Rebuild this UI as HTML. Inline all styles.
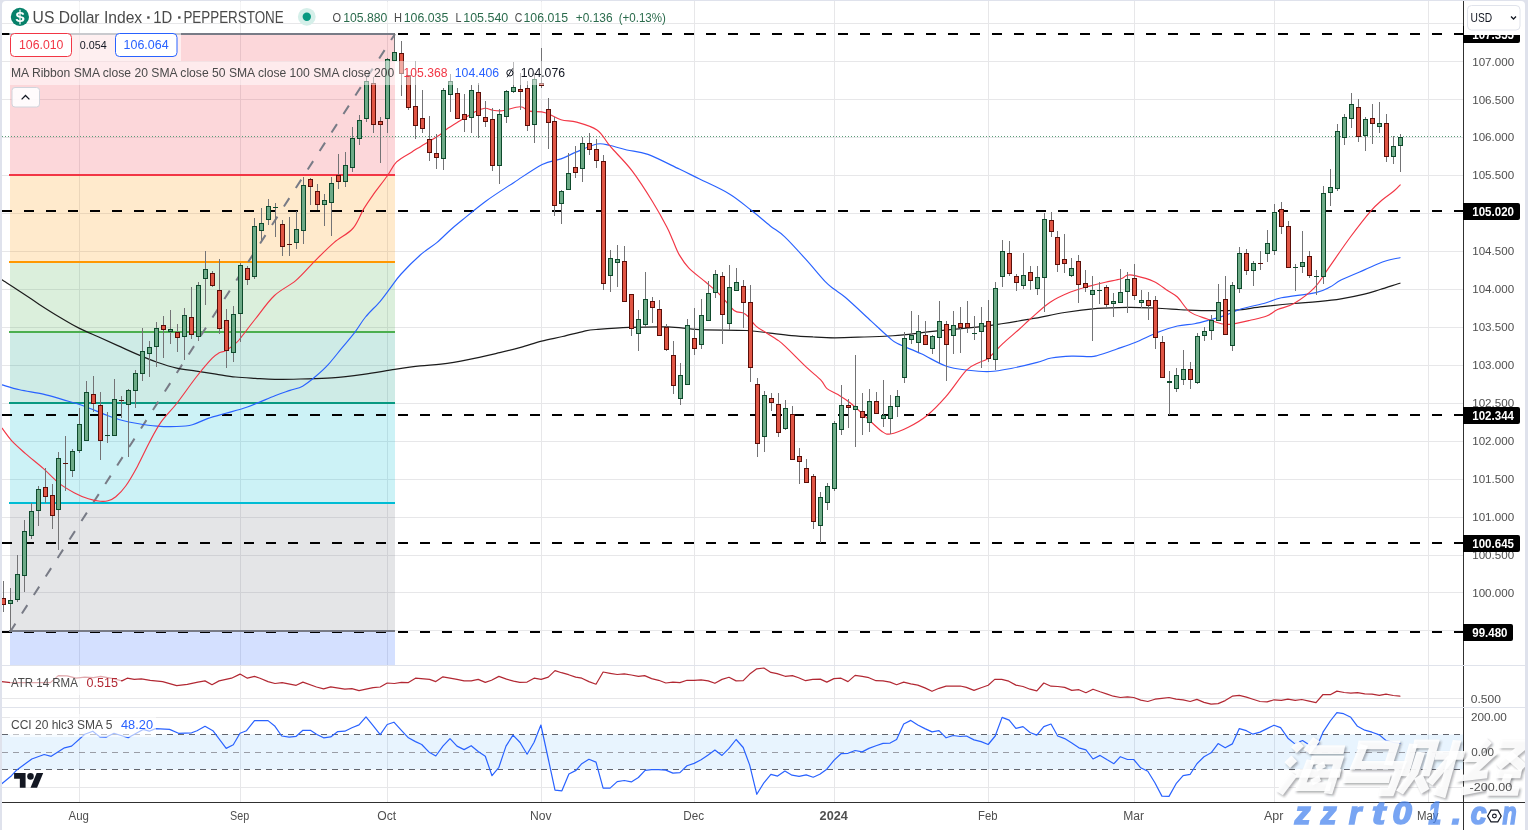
<!DOCTYPE html><html><head><meta charset="utf-8"><title>US Dollar Index</title>
<style>
html,body{margin:0;padding:0;background:#fff;}
body{width:1528px;height:830px;overflow:hidden;position:relative;font-family:"Liberation Sans",sans-serif;}
#c{position:absolute;left:0;top:0;width:1528px;height:830px;will-change:transform;}
svg text{font-family:"Liberation Sans",sans-serif;}
</style></head><body>
<svg id="c" width="1528" height="830" viewBox="0 0 1528 830">
<rect x="0" y="0" width="1528" height="830" fill="#ffffff"/>
<g id="grid" shape-rendering="crispEdges"><rect x="79" y="1" width="1" height="801" fill="#e7e7e9"/><rect x="240" y="1" width="1" height="801" fill="#e7e7e9"/><rect x="387" y="1" width="1" height="801" fill="#e7e7e9"/><rect x="541" y="1" width="1" height="801" fill="#e7e7e9"/><rect x="694" y="1" width="1" height="801" fill="#e7e7e9"/><rect x="834" y="1" width="1" height="801" fill="#e7e7e9"/><rect x="988" y="1" width="1" height="801" fill="#e7e7e9"/><rect x="1134" y="1" width="1" height="801" fill="#e7e7e9"/><rect x="1274" y="1" width="1" height="801" fill="#e7e7e9"/><rect x="1428" y="1" width="1" height="801" fill="#e7e7e9"/><rect x="2" y="23" width="1461" height="1" fill="#e7e7e9"/><rect x="2" y="61" width="1461" height="1" fill="#e7e7e9"/><rect x="2" y="99" width="1461" height="1" fill="#e7e7e9"/><rect x="2" y="137" width="1461" height="1" fill="#e7e7e9"/><rect x="2" y="175" width="1461" height="1" fill="#e7e7e9"/><rect x="2" y="213" width="1461" height="1" fill="#e7e7e9"/><rect x="2" y="251" width="1461" height="1" fill="#e7e7e9"/><rect x="2" y="289" width="1461" height="1" fill="#e7e7e9"/><rect x="2" y="327" width="1461" height="1" fill="#e7e7e9"/><rect x="2" y="365" width="1461" height="1" fill="#e7e7e9"/><rect x="2" y="403" width="1461" height="1" fill="#e7e7e9"/><rect x="2" y="441" width="1461" height="1" fill="#e7e7e9"/><rect x="2" y="479" width="1461" height="1" fill="#e7e7e9"/><rect x="2" y="517" width="1461" height="1" fill="#e7e7e9"/><rect x="2" y="555" width="1461" height="1" fill="#e7e7e9"/><rect x="2" y="592" width="1461" height="1" fill="#e7e7e9"/><rect x="2" y="630" width="1461" height="1" fill="#e7e7e9"/><rect x="2" y="698" width="1461" height="1" fill="#e7e7e9"/><rect x="2" y="717" width="1461" height="1" fill="#e7e7e9"/><rect x="2" y="787" width="1461" height="1" fill="#e7e7e9"/></g>
<line x1="2" y1="34" x2="1463" y2="34" stroke="#000" stroke-width="2.2" stroke-dasharray="10 12"/>
<g id="fib" shape-rendering="crispEdges">
<rect x="10" y="34" width="385" height="141" fill="#f23645" fill-opacity="0.2"/>
<rect x="10" y="175" width="385" height="87" fill="#ff9800" fill-opacity="0.2"/>
<rect x="10" y="262" width="385" height="70" fill="#4caf50" fill-opacity="0.2"/>
<rect x="10" y="332" width="385" height="71" fill="#089981" fill-opacity="0.2"/>
<rect x="10" y="403" width="385" height="100" fill="#00bcd4" fill-opacity="0.2"/>
<rect x="10" y="503" width="385" height="128" fill="#787b86" fill-opacity="0.2"/>
<rect x="10" y="631" width="385" height="34" fill="#2962ff" fill-opacity="0.2"/>
<line x1="2" y1="632" x2="1463" y2="632" stroke="#000" stroke-width="2.2" stroke-dasharray="10 12" shape-rendering="auto"/>
<rect x="9" y="33" width="386" height="2" fill="#787b86"/>
<rect x="9" y="174" width="386" height="2" fill="#f23645"/>
<rect x="9" y="261" width="386" height="2" fill="#ff9800"/>
<rect x="9" y="331" width="386" height="2" fill="#4caf50"/>
<rect x="9" y="402" width="386" height="2" fill="#089981"/>
<rect x="9" y="502" width="386" height="2" fill="#00bcd4"/>
<rect x="9" y="630" width="386" height="2" fill="#787b86"/>
</g>
<line x1="10" y1="632" x2="395" y2="34" stroke="#787b86" stroke-width="2" stroke-dasharray="10 12"/>
<rect x="2" y="665" width="1523" height="1" fill="#e0e3eb"/>
<rect x="2" y="707" width="1523" height="1" fill="#e0e3eb"/>
<rect x="2" y="734.5" width="1461" height="35" fill="#2196f3" fill-opacity="0.1"/>
<line x1="2" y1="734.5" x2="1463" y2="734.5" stroke="#62656e" stroke-width="1" stroke-dasharray="6 5"/>
<line x1="2" y1="752.5" x2="1463" y2="752.5" stroke="#9a9da6" stroke-width="1" stroke-dasharray="6 5"/>
<line x1="2" y1="769.5" x2="1463" y2="769.5" stroke="#62656e" stroke-width="1" stroke-dasharray="6 5"/>
<line x1="2" y1="211" x2="1463" y2="211" stroke="#000" stroke-width="2.2" stroke-dasharray="10 12"/>
<line x1="2" y1="415" x2="1463" y2="415" stroke="#000" stroke-width="2.2" stroke-dasharray="10 12"/>
<line x1="2" y1="543" x2="1463" y2="543" stroke="#000" stroke-width="2.2" stroke-dasharray="10 12"/>
<line x1="2" y1="136.5" x2="1463" y2="136.5" stroke="#5a9e78" stroke-width="1" stroke-dasharray="1 2" shape-rendering="crispEdges"/>
<path d="M2.0 279.8C4.9 281.7 13.4 287.1 19.6 291.2C25.8 295.3 32.8 300.1 39.3 304.4C45.8 308.6 52.4 312.8 58.9 316.7C65.4 320.6 72.0 324.5 78.5 327.9C85.0 331.2 91.7 333.9 98.2 336.8C104.8 339.8 111.3 342.7 117.8 345.6C124.3 348.5 130.8 351.6 137.4 354.4C144.0 357.2 150.6 360.0 157.1 362.3C163.6 364.6 170.2 366.7 176.7 368.2C183.2 369.7 189.8 370.1 196.3 371.1C202.9 372.1 209.4 373.1 216.0 374.1C222.6 375.1 229.0 376.3 235.6 377.0C242.2 377.7 248.8 378.0 255.3 378.4C261.9 378.8 267.4 379.3 274.9 379.4C282.3 379.5 290.5 379.3 300.0 379.0C309.5 378.7 321.3 378.6 331.9 377.8C342.5 377.0 352.9 375.7 363.4 374.3C373.9 372.9 385.4 370.8 394.8 369.4C404.2 368.0 412.3 366.8 420.0 365.9C427.7 365.0 433.0 365.2 441.0 364.2C449.0 363.1 458.4 361.5 468.2 359.6C478.0 357.7 490.9 354.7 499.7 352.7C508.4 350.7 513.7 349.3 520.7 347.4C527.7 345.5 534.6 342.9 541.6 341.1C548.6 339.3 555.6 338.1 562.6 336.5C569.6 334.9 578.0 332.5 583.6 331.3C589.2 330.1 588.5 330.1 596.1 329.5C603.7 328.9 617.0 327.8 629.0 327.4C641.0 327.0 656.2 326.5 668.0 326.9C679.8 327.3 686.5 329.0 699.6 329.6C712.7 330.2 734.9 329.9 746.6 330.5C758.3 331.1 762.5 332.2 770.0 333.1C777.5 334.0 784.5 335.0 791.7 335.6C798.9 336.2 806.2 336.6 813.4 337.0C820.6 337.4 826.6 337.8 835.0 337.8C843.4 337.8 855.1 337.3 864.0 337.0C872.9 336.7 881.9 336.4 888.5 336.0C895.1 335.6 895.1 335.8 903.6 334.9C912.1 334.0 925.4 332.2 939.6 330.7C953.8 329.1 973.6 327.6 988.7 325.6C1003.9 323.7 1017.9 321.2 1030.5 319.0C1043.2 316.8 1053.4 314.3 1064.6 312.5C1075.8 310.7 1086.8 309.3 1097.5 308.4C1108.2 307.5 1119.2 307.4 1128.8 307.3C1138.4 307.2 1145.3 307.6 1155.0 308.0C1164.7 308.4 1177.6 309.6 1186.8 310.0C1196.0 310.4 1202.1 310.7 1210.3 310.7C1218.5 310.7 1227.3 310.9 1236.0 310.2C1244.7 309.5 1252.9 307.8 1262.6 306.7C1272.3 305.6 1284.8 304.3 1294.0 303.5C1303.2 302.7 1309.7 302.5 1317.5 301.7C1325.3 300.9 1333.2 300.1 1341.0 298.8C1348.8 297.6 1357.9 295.8 1364.4 294.2C1370.9 292.6 1374.2 291.3 1380.1 289.5C1386.0 287.7 1396.7 284.2 1400.0 283.2" fill="none" stroke="#1c1c1c" stroke-width="1.2" stroke-linejoin="round" stroke-linecap="round"/>
<path d="M2.0 384.9C4.9 385.7 12.7 388.3 19.6 389.8C26.5 391.3 36.0 392.5 43.2 394.1C50.4 395.7 56.2 397.7 62.8 399.6C69.3 401.5 75.3 402.9 82.5 405.5C89.7 408.1 99.5 412.4 106.0 414.9C112.5 417.3 116.5 418.8 121.7 420.2C126.9 421.6 131.5 422.5 137.4 423.5C143.3 424.5 150.6 425.6 157.1 426.1C163.6 426.6 170.8 426.7 176.7 426.5C182.6 426.3 187.2 426.1 192.4 424.7C197.6 423.3 202.5 420.3 208.1 418.4C213.7 416.5 219.2 415.2 225.8 413.3C232.4 411.4 239.2 409.9 247.4 407.0C255.6 404.1 267.8 398.5 274.9 395.7C282.0 392.9 285.4 392.0 290.0 390.4C294.6 388.8 298.4 388.5 302.6 386.2C306.8 383.9 311.0 380.3 315.2 376.8C319.4 373.3 323.2 370.1 327.7 365.2C332.2 360.3 337.8 352.9 342.4 347.4C346.9 341.9 351.1 337.2 355.0 332.1C358.9 327.0 361.3 322.1 365.5 317.0C369.7 311.9 376.0 306.2 380.2 301.3C384.4 296.4 387.1 292.2 390.6 287.7C394.1 283.1 396.2 279.4 401.1 274.0C406.0 268.6 414.1 260.4 420.0 255.2C425.9 250.0 431.7 246.8 436.8 242.6C441.9 238.4 446.1 233.8 450.4 230.0C454.6 226.2 456.4 224.8 462.3 220.0C468.2 215.2 477.2 207.5 485.8 201.2C494.4 194.9 504.6 188.5 514.0 182.4C523.4 176.3 534.4 168.3 542.2 164.4C550.0 160.5 555.3 161.0 561.0 158.9C566.7 156.8 570.6 154.4 576.6 151.9C582.6 149.4 591.4 145.1 597.0 144.0C602.6 142.9 605.0 144.5 610.0 145.5C615.0 146.5 620.5 148.5 626.8 150.0C633.1 151.5 639.1 151.2 647.9 154.4C656.6 157.6 670.7 165.0 679.3 169.1C687.9 173.2 691.2 174.9 699.6 179.0C708.0 183.1 720.8 188.7 729.4 193.9C738.0 199.1 744.5 205.0 751.3 210.3C758.1 215.6 764.5 221.3 770.0 225.7C775.5 230.1 778.5 230.9 784.5 236.6C790.5 242.3 799.4 252.2 806.1 259.7C812.9 267.2 820.3 276.5 825.0 281.4C829.7 286.3 830.9 286.6 834.3 289.3C837.7 292.0 839.1 292.0 845.2 297.3C851.4 302.6 864.0 314.5 871.2 321.1C878.4 327.7 884.1 333.3 888.5 337.0C892.9 340.7 892.0 340.7 897.5 343.5C903.0 346.3 913.1 350.0 921.3 353.8C929.4 357.6 938.6 363.6 946.4 366.3C954.2 369.0 961.0 369.3 968.3 370.2C975.6 371.1 982.9 371.8 990.2 371.5C997.5 371.2 1004.4 369.7 1012.2 368.2C1020.0 366.7 1030.7 364.1 1037.2 362.4C1043.7 360.7 1045.5 359.1 1051.3 358.0C1057.0 356.9 1065.2 356.3 1071.7 356.1C1078.2 355.9 1085.7 356.7 1090.0 356.6C1094.3 356.5 1093.1 356.7 1097.5 355.5C1101.9 354.3 1110.0 351.4 1116.3 349.2C1122.6 347.0 1128.0 345.4 1135.1 342.5C1142.1 339.6 1151.5 334.8 1158.6 332.0C1165.6 329.2 1171.4 327.4 1177.4 326.0C1183.4 324.6 1189.1 324.7 1194.6 323.7C1200.1 322.7 1205.1 321.2 1210.3 319.8C1215.5 318.4 1220.8 316.9 1226.0 315.1C1231.2 313.3 1235.0 310.8 1241.6 308.8C1248.2 306.8 1258.9 304.8 1265.5 303.0C1272.1 301.2 1273.0 299.5 1281.4 297.8C1289.8 296.1 1307.8 294.4 1315.9 292.6C1324.0 290.8 1325.8 289.2 1330.0 287.1C1334.2 285.0 1335.3 283.0 1341.0 280.1C1346.7 277.2 1357.1 273.0 1364.4 269.9C1371.7 266.8 1378.9 263.3 1384.8 261.3C1390.7 259.3 1397.5 258.3 1400.0 257.7" fill="none" stroke="#2962ff" stroke-width="1.15" stroke-linejoin="round" stroke-linecap="round"/>
<path d="M2.0 428.1C3.6 430.2 7.9 436.6 11.8 440.9C15.7 445.1 20.3 449.0 25.5 453.6C30.7 458.2 37.6 463.5 43.2 468.4C48.8 473.3 53.7 479.0 58.9 483.1C64.1 487.2 69.7 490.3 74.6 492.9C79.5 495.5 84.2 497.4 88.4 498.8C92.7 500.2 96.8 501.0 100.1 501.3C103.4 501.6 105.4 501.6 108.0 500.8C110.6 500.1 112.8 499.3 115.8 496.8C118.8 494.3 122.1 491.1 125.7 486.0C129.3 480.9 133.5 473.6 137.4 466.4C141.3 459.2 145.3 450.2 149.2 442.8C153.1 435.4 156.4 428.8 161.0 422.2C165.6 415.6 170.8 411.0 176.7 403.5C182.6 396.0 190.4 384.5 196.3 377.0C202.2 369.5 208.2 362.4 212.0 358.4C215.8 354.4 217.1 354.1 219.3 352.8C221.6 351.5 222.6 352.4 225.5 350.7C228.4 349.0 233.8 344.9 236.5 342.6C239.2 340.3 238.4 340.7 241.5 336.8C244.6 332.9 249.8 325.9 255.3 319.0C260.8 312.1 267.7 301.9 274.5 295.5C281.3 289.1 289.3 286.1 296.0 280.4C302.7 274.7 308.5 267.4 314.8 261.1C321.1 254.8 327.7 248.0 334.0 242.6C340.3 237.2 347.9 234.1 352.8 228.5C357.8 222.9 360.3 214.5 363.7 208.9C367.1 203.3 369.2 200.3 373.1 194.8C377.0 189.3 383.3 181.5 387.2 176.0C391.1 170.5 392.4 166.0 396.6 161.9C400.8 157.8 408.8 154.0 412.3 151.7C415.8 149.4 413.1 151.0 417.7 148.2C422.2 145.4 434.8 138.1 439.6 134.9C444.4 131.7 443.2 131.5 446.6 129.2C450.0 126.8 455.1 123.8 460.0 120.8C464.9 117.8 471.5 113.5 475.7 111.4C479.9 109.3 482.1 108.5 485.0 108.3C487.9 108.1 490.0 109.8 492.9 110.2C495.8 110.6 497.8 111.3 502.3 110.7C506.9 110.1 515.7 106.7 520.2 106.8C524.8 106.9 525.4 110.1 529.6 111.1C533.8 112.1 540.1 111.2 545.3 112.7C550.5 114.2 555.8 118.2 561.0 119.8C566.2 121.4 570.6 120.4 576.6 122.1C582.6 123.8 591.8 126.4 597.0 129.9C602.2 133.4 605.1 140.0 607.9 143.3C610.6 146.7 609.4 145.4 613.5 150.0C617.6 154.6 625.8 162.5 632.3 171.1C638.8 179.7 646.9 192.4 652.6 201.7C658.3 211.0 663.4 220.3 666.7 226.7C670.1 233.1 670.6 235.3 672.7 240.0C674.8 244.7 676.6 250.3 679.3 254.9C682.0 259.5 684.3 263.2 688.7 267.8C693.1 272.4 700.7 277.8 705.9 282.3C711.1 286.8 715.3 290.1 720.0 294.8C724.7 299.5 730.3 307.5 734.1 310.5C737.9 313.5 740.4 311.8 742.7 312.8C745.1 313.8 746.0 314.5 748.2 316.7C750.4 318.9 752.9 323.4 756.0 326.1C759.1 328.9 763.4 330.9 767.0 333.2C770.6 335.5 774.8 338.0 777.9 340.2C781.0 342.4 780.7 342.1 785.5 346.6C790.3 351.1 800.7 361.8 806.6 367.4C812.5 372.9 817.3 376.4 820.7 379.9C824.1 383.4 824.1 386.2 827.0 388.6C829.9 391.0 834.0 392.1 837.9 394.5C841.8 396.9 845.7 399.2 850.4 403.0C855.1 406.8 860.8 412.4 866.0 417.1C871.2 421.8 877.7 428.4 881.7 431.2C885.8 434.0 885.9 434.6 890.3 434.0C894.7 433.4 902.2 430.4 908.3 427.3C914.4 424.2 920.8 420.6 927.1 415.5C933.4 410.4 939.3 404.2 945.9 396.7C952.5 389.1 960.9 375.9 966.5 370.2C972.1 364.5 975.7 364.3 979.3 362.4C982.9 360.4 984.1 361.6 988.0 358.5C991.9 355.4 997.7 348.4 1002.8 343.6C1007.9 338.9 1013.8 334.1 1018.4 330.0C1023.0 325.9 1025.3 323.4 1030.5 318.8C1035.7 314.2 1043.1 306.9 1049.8 302.4C1056.5 297.9 1063.9 294.7 1070.5 292.0C1077.1 289.3 1083.8 287.7 1089.6 286.1C1095.4 284.5 1100.1 283.4 1105.3 282.2C1110.5 281.0 1117.3 280.0 1121.0 278.8C1124.7 277.6 1124.9 275.7 1127.2 275.2C1129.5 274.7 1130.6 274.6 1135.0 275.6C1139.4 276.6 1148.3 278.9 1153.8 281.4C1159.3 283.9 1164.0 288.2 1167.9 290.8C1171.8 293.4 1173.7 293.5 1177.4 297.0C1181.1 300.5 1184.9 308.2 1189.9 311.9C1194.9 315.6 1202.0 317.0 1207.2 319.0C1212.4 321.0 1217.1 322.8 1221.3 323.7C1225.5 324.6 1227.5 324.6 1232.2 324.1C1236.9 323.6 1243.7 321.9 1249.4 320.5C1255.2 319.1 1262.0 317.8 1266.7 316.0C1271.4 314.2 1273.0 311.7 1277.6 309.6C1282.1 307.5 1287.9 307.1 1294.0 303.5C1300.1 299.9 1308.6 293.8 1314.3 287.9C1320.0 282.0 1322.4 276.8 1328.4 268.3C1334.4 259.8 1343.4 246.5 1350.4 237.0C1357.5 227.5 1365.4 217.3 1370.7 211.1C1376.0 204.9 1378.2 203.4 1382.1 200.0C1386.0 196.6 1391.2 193.3 1394.2 190.8C1397.2 188.3 1399.2 185.8 1400.2 184.8" fill="none" stroke="#f23645" stroke-width="1.15" stroke-linejoin="round" stroke-linecap="round"/>
<g id="candles" shape-rendering="crispEdges"><rect x="3" y="581" width="1" height="31" fill="#737375"/><rect x="1" y="598" width="5" height="7" fill="#5a0e08"/><rect x="2" y="599" width="3" height="5" fill="#e05544"/><rect x="10" y="588" width="1" height="43" fill="#737375"/><rect x="8" y="600" width="5" height="4" fill="#0e4a2c"/><rect x="9" y="601" width="3" height="2" fill="#6daa87"/><rect x="17" y="555" width="1" height="47" fill="#737375"/><rect x="15" y="574" width="5" height="26" fill="#0e4a2c"/><rect x="16" y="575" width="3" height="24" fill="#6daa87"/><rect x="24" y="520" width="1" height="72" fill="#737375"/><rect x="22" y="531" width="5" height="45" fill="#0e4a2c"/><rect x="23" y="532" width="3" height="43" fill="#6daa87"/><rect x="31" y="503" width="1" height="36" fill="#737375"/><rect x="29" y="511" width="5" height="25" fill="#0e4a2c"/><rect x="30" y="512" width="3" height="23" fill="#6daa87"/><rect x="38" y="486" width="1" height="40" fill="#737375"/><rect x="36" y="489" width="5" height="22" fill="#0e4a2c"/><rect x="37" y="490" width="3" height="20" fill="#6daa87"/><rect x="45" y="468" width="1" height="35" fill="#737375"/><rect x="43" y="487" width="5" height="10" fill="#5a0e08"/><rect x="44" y="488" width="3" height="8" fill="#e05544"/><rect x="52" y="484" width="1" height="45" fill="#737375"/><rect x="50" y="495" width="5" height="21" fill="#5a0e08"/><rect x="51" y="496" width="3" height="19" fill="#e05544"/><rect x="58" y="452" width="1" height="98" fill="#737375"/><rect x="56" y="458" width="5" height="52" fill="#0e4a2c"/><rect x="57" y="459" width="3" height="50" fill="#6daa87"/><rect x="65" y="436" width="1" height="55" fill="#737375"/><rect x="63" y="463" width="5" height="1" fill="#5a0e08"/><rect x="72" y="449" width="1" height="28" fill="#737375"/><rect x="70" y="451" width="5" height="20" fill="#0e4a2c"/><rect x="71" y="452" width="3" height="18" fill="#6daa87"/><rect x="79" y="408" width="1" height="45" fill="#737375"/><rect x="77" y="424" width="5" height="27" fill="#0e4a2c"/><rect x="78" y="425" width="3" height="25" fill="#6daa87"/><rect x="86" y="381" width="1" height="60" fill="#737375"/><rect x="84" y="392" width="5" height="49" fill="#0e4a2c"/><rect x="85" y="393" width="3" height="47" fill="#6daa87"/><rect x="93" y="376" width="1" height="36" fill="#737375"/><rect x="91" y="394" width="5" height="10" fill="#5a0e08"/><rect x="92" y="395" width="3" height="8" fill="#e05544"/><rect x="100" y="392" width="1" height="68" fill="#737375"/><rect x="98" y="405" width="5" height="36" fill="#5a0e08"/><rect x="99" y="406" width="3" height="34" fill="#e05544"/><rect x="107" y="412" width="1" height="31" fill="#737375"/><rect x="105" y="435" width="5" height="1" fill="#0e4a2c"/><rect x="114" y="379" width="1" height="57" fill="#737375"/><rect x="112" y="399" width="5" height="37" fill="#0e4a2c"/><rect x="113" y="400" width="3" height="35" fill="#6daa87"/><rect x="121" y="396" width="1" height="22" fill="#737375"/><rect x="119" y="400" width="5" height="1" fill="#5a0e08"/><rect x="128" y="389" width="1" height="68" fill="#737375"/><rect x="126" y="390" width="5" height="15" fill="#0e4a2c"/><rect x="127" y="391" width="3" height="13" fill="#6daa87"/><rect x="135" y="370" width="1" height="38" fill="#737375"/><rect x="133" y="373" width="5" height="18" fill="#0e4a2c"/><rect x="134" y="374" width="3" height="16" fill="#6daa87"/><rect x="142" y="328" width="1" height="53" fill="#737375"/><rect x="140" y="351" width="5" height="23" fill="#0e4a2c"/><rect x="141" y="352" width="3" height="21" fill="#6daa87"/><rect x="149" y="341" width="1" height="36" fill="#737375"/><rect x="147" y="347" width="5" height="7" fill="#0e4a2c"/><rect x="148" y="348" width="3" height="5" fill="#6daa87"/><rect x="156" y="322" width="1" height="45" fill="#737375"/><rect x="154" y="328" width="5" height="19" fill="#0e4a2c"/><rect x="155" y="329" width="3" height="17" fill="#6daa87"/><rect x="163" y="316" width="1" height="42" fill="#737375"/><rect x="161" y="325" width="5" height="5" fill="#5a0e08"/><rect x="162" y="326" width="3" height="3" fill="#e05544"/><rect x="170" y="310" width="1" height="34" fill="#737375"/><rect x="168" y="329" width="5" height="3" fill="#0e4a2c"/><rect x="169" y="330" width="3" height="1" fill="#6daa87"/><rect x="177" y="324" width="1" height="28" fill="#737375"/><rect x="175" y="332" width="5" height="6" fill="#5a0e08"/><rect x="176" y="333" width="3" height="4" fill="#e05544"/><rect x="184" y="308" width="1" height="52" fill="#737375"/><rect x="182" y="315" width="5" height="22" fill="#0e4a2c"/><rect x="183" y="316" width="3" height="20" fill="#6daa87"/><rect x="191" y="287" width="1" height="52" fill="#737375"/><rect x="189" y="317" width="5" height="18" fill="#5a0e08"/><rect x="190" y="318" width="3" height="16" fill="#e05544"/><rect x="198" y="282" width="1" height="59" fill="#737375"/><rect x="196" y="285" width="5" height="52" fill="#0e4a2c"/><rect x="197" y="286" width="3" height="50" fill="#6daa87"/><rect x="205" y="251" width="1" height="54" fill="#737375"/><rect x="203" y="269" width="5" height="10" fill="#0e4a2c"/><rect x="204" y="270" width="3" height="8" fill="#6daa87"/><rect x="212" y="271" width="1" height="16" fill="#737375"/><rect x="210" y="273" width="5" height="13" fill="#5a0e08"/><rect x="211" y="274" width="3" height="11" fill="#e05544"/><rect x="219" y="259" width="1" height="75" fill="#737375"/><rect x="217" y="290" width="5" height="39" fill="#5a0e08"/><rect x="218" y="291" width="3" height="37" fill="#e05544"/><rect x="226" y="309" width="1" height="59" fill="#737375"/><rect x="224" y="320" width="5" height="31" fill="#5a0e08"/><rect x="225" y="321" width="3" height="29" fill="#e05544"/><rect x="233" y="306" width="1" height="56" fill="#737375"/><rect x="231" y="314" width="5" height="39" fill="#0e4a2c"/><rect x="232" y="315" width="3" height="37" fill="#6daa87"/><rect x="240" y="263" width="1" height="79" fill="#737375"/><rect x="238" y="265" width="5" height="49" fill="#0e4a2c"/><rect x="239" y="266" width="3" height="47" fill="#6daa87"/><rect x="247" y="266" width="1" height="19" fill="#737375"/><rect x="245" y="268" width="5" height="12" fill="#5a0e08"/><rect x="246" y="269" width="3" height="10" fill="#e05544"/><rect x="254" y="218" width="1" height="61" fill="#737375"/><rect x="252" y="226" width="5" height="51" fill="#0e4a2c"/><rect x="253" y="227" width="3" height="49" fill="#6daa87"/><rect x="261" y="208" width="1" height="32" fill="#737375"/><rect x="259" y="223" width="5" height="8" fill="#0e4a2c"/><rect x="260" y="224" width="3" height="6" fill="#6daa87"/><rect x="268" y="199" width="1" height="26" fill="#737375"/><rect x="266" y="206" width="5" height="14" fill="#0e4a2c"/><rect x="267" y="207" width="3" height="12" fill="#6daa87"/><rect x="275" y="203" width="1" height="34" fill="#737375"/><rect x="273" y="207" width="5" height="1" fill="#0e4a2c"/><rect x="282" y="220" width="1" height="36" fill="#737375"/><rect x="280" y="224" width="5" height="23" fill="#5a0e08"/><rect x="281" y="225" width="3" height="21" fill="#e05544"/><rect x="289" y="217" width="1" height="39" fill="#737375"/><rect x="287" y="244" width="5" height="1" fill="#5a0e08"/><rect x="296" y="211" width="1" height="38" fill="#737375"/><rect x="294" y="229" width="5" height="14" fill="#0e4a2c"/><rect x="295" y="230" width="3" height="12" fill="#6daa87"/><rect x="303" y="177" width="1" height="67" fill="#737375"/><rect x="301" y="185" width="5" height="46" fill="#0e4a2c"/><rect x="302" y="186" width="3" height="44" fill="#6daa87"/><rect x="310" y="178" width="1" height="27" fill="#737375"/><rect x="308" y="179" width="5" height="8" fill="#5a0e08"/><rect x="309" y="180" width="3" height="6" fill="#e05544"/><rect x="317" y="184" width="1" height="26" fill="#737375"/><rect x="315" y="191" width="5" height="14" fill="#5a0e08"/><rect x="316" y="192" width="3" height="12" fill="#e05544"/><rect x="324" y="194" width="1" height="32" fill="#737375"/><rect x="322" y="200" width="5" height="5" fill="#0e4a2c"/><rect x="323" y="201" width="3" height="3" fill="#6daa87"/><rect x="331" y="177" width="1" height="59" fill="#737375"/><rect x="329" y="183" width="5" height="20" fill="#0e4a2c"/><rect x="330" y="184" width="3" height="18" fill="#6daa87"/><rect x="338" y="154" width="1" height="35" fill="#737375"/><rect x="336" y="175" width="5" height="7" fill="#5a0e08"/><rect x="337" y="176" width="3" height="5" fill="#e05544"/><rect x="345" y="152" width="1" height="35" fill="#737375"/><rect x="343" y="165" width="5" height="17" fill="#0e4a2c"/><rect x="344" y="166" width="3" height="15" fill="#6daa87"/><rect x="352" y="127" width="1" height="45" fill="#737375"/><rect x="350" y="138" width="5" height="30" fill="#0e4a2c"/><rect x="351" y="139" width="3" height="28" fill="#6daa87"/><rect x="359" y="115" width="1" height="30" fill="#737375"/><rect x="357" y="120" width="5" height="19" fill="#0e4a2c"/><rect x="358" y="121" width="3" height="17" fill="#6daa87"/><rect x="366" y="77" width="1" height="45" fill="#737375"/><rect x="364" y="81" width="5" height="38" fill="#0e4a2c"/><rect x="365" y="82" width="3" height="36" fill="#6daa87"/><rect x="373" y="77" width="1" height="56" fill="#737375"/><rect x="371" y="83" width="5" height="42" fill="#5a0e08"/><rect x="372" y="84" width="3" height="40" fill="#e05544"/><rect x="380" y="117" width="1" height="46" fill="#737375"/><rect x="378" y="121" width="5" height="4" fill="#5a0e08"/><rect x="379" y="122" width="3" height="2" fill="#e05544"/><rect x="387" y="58" width="1" height="75" fill="#737375"/><rect x="385" y="59" width="5" height="60" fill="#0e4a2c"/><rect x="386" y="60" width="3" height="58" fill="#6daa87"/><rect x="394" y="33" width="1" height="28" fill="#737375"/><rect x="392" y="52" width="5" height="9" fill="#0e4a2c"/><rect x="393" y="53" width="3" height="7" fill="#6daa87"/><rect x="401" y="41" width="1" height="55" fill="#737375"/><rect x="399" y="53" width="5" height="21" fill="#5a0e08"/><rect x="400" y="54" width="3" height="19" fill="#e05544"/><rect x="408" y="75" width="1" height="35" fill="#737375"/><rect x="406" y="75" width="5" height="33" fill="#5a0e08"/><rect x="407" y="76" width="3" height="31" fill="#e05544"/><rect x="415" y="61" width="1" height="78" fill="#737375"/><rect x="413" y="106" width="5" height="20" fill="#5a0e08"/><rect x="414" y="107" width="3" height="18" fill="#e05544"/><rect x="422" y="90" width="1" height="43" fill="#737375"/><rect x="420" y="118" width="5" height="11" fill="#5a0e08"/><rect x="421" y="119" width="3" height="9" fill="#e05544"/><rect x="429" y="116" width="1" height="45" fill="#737375"/><rect x="427" y="139" width="5" height="14" fill="#5a0e08"/><rect x="428" y="140" width="3" height="12" fill="#e05544"/><rect x="436" y="134" width="1" height="35" fill="#737375"/><rect x="434" y="153" width="5" height="5" fill="#5a0e08"/><rect x="435" y="154" width="3" height="3" fill="#e05544"/><rect x="443" y="88" width="1" height="82" fill="#737375"/><rect x="441" y="90" width="5" height="69" fill="#0e4a2c"/><rect x="442" y="91" width="3" height="67" fill="#6daa87"/><rect x="450" y="74" width="1" height="38" fill="#737375"/><rect x="448" y="81" width="5" height="14" fill="#0e4a2c"/><rect x="449" y="82" width="3" height="12" fill="#6daa87"/><rect x="457" y="88" width="1" height="31" fill="#737375"/><rect x="455" y="93" width="5" height="26" fill="#5a0e08"/><rect x="456" y="94" width="3" height="24" fill="#e05544"/><rect x="464" y="94" width="1" height="38" fill="#737375"/><rect x="462" y="114" width="5" height="6" fill="#5a0e08"/><rect x="463" y="115" width="3" height="4" fill="#e05544"/><rect x="471" y="85" width="1" height="48" fill="#737375"/><rect x="469" y="90" width="5" height="28" fill="#0e4a2c"/><rect x="470" y="91" width="3" height="26" fill="#6daa87"/><rect x="478" y="83" width="1" height="55" fill="#737375"/><rect x="476" y="92" width="5" height="24" fill="#5a0e08"/><rect x="477" y="93" width="3" height="22" fill="#e05544"/><rect x="485" y="101" width="1" height="26" fill="#737375"/><rect x="483" y="117" width="5" height="5" fill="#5a0e08"/><rect x="484" y="118" width="3" height="3" fill="#e05544"/><rect x="492" y="108" width="1" height="63" fill="#737375"/><rect x="490" y="119" width="5" height="47" fill="#5a0e08"/><rect x="491" y="120" width="3" height="45" fill="#e05544"/><rect x="499" y="109" width="1" height="75" fill="#737375"/><rect x="497" y="114" width="5" height="52" fill="#0e4a2c"/><rect x="498" y="115" width="3" height="50" fill="#6daa87"/><rect x="506" y="90" width="1" height="33" fill="#737375"/><rect x="504" y="91" width="5" height="26" fill="#0e4a2c"/><rect x="505" y="92" width="3" height="24" fill="#6daa87"/><rect x="513" y="62" width="1" height="31" fill="#737375"/><rect x="511" y="87" width="5" height="5" fill="#0e4a2c"/><rect x="512" y="88" width="3" height="3" fill="#6daa87"/><rect x="520" y="73" width="1" height="37" fill="#737375"/><rect x="518" y="89" width="5" height="3" fill="#5a0e08"/><rect x="519" y="90" width="3" height="1" fill="#e05544"/><rect x="527" y="81" width="1" height="50" fill="#737375"/><rect x="525" y="88" width="5" height="38" fill="#5a0e08"/><rect x="526" y="89" width="3" height="36" fill="#e05544"/><rect x="534" y="73" width="1" height="70" fill="#737375"/><rect x="532" y="79" width="5" height="46" fill="#0e4a2c"/><rect x="533" y="80" width="3" height="44" fill="#6daa87"/><rect x="541" y="48" width="1" height="40" fill="#737375"/><rect x="539" y="83" width="5" height="3" fill="#5a0e08"/><rect x="540" y="84" width="3" height="1" fill="#e05544"/><rect x="548" y="98" width="1" height="51" fill="#737375"/><rect x="546" y="109" width="5" height="14" fill="#5a0e08"/><rect x="547" y="110" width="3" height="12" fill="#e05544"/><rect x="554" y="117" width="1" height="99" fill="#737375"/><rect x="552" y="121" width="5" height="85" fill="#5a0e08"/><rect x="553" y="122" width="3" height="83" fill="#e05544"/><rect x="561" y="190" width="1" height="34" fill="#737375"/><rect x="559" y="191" width="5" height="13" fill="#0e4a2c"/><rect x="560" y="192" width="3" height="11" fill="#6daa87"/><rect x="568" y="153" width="1" height="37" fill="#737375"/><rect x="566" y="173" width="5" height="17" fill="#0e4a2c"/><rect x="567" y="174" width="3" height="15" fill="#6daa87"/><rect x="575" y="146" width="1" height="32" fill="#737375"/><rect x="573" y="167" width="5" height="6" fill="#5a0e08"/><rect x="574" y="168" width="3" height="4" fill="#e05544"/><rect x="582" y="137" width="1" height="45" fill="#737375"/><rect x="580" y="143" width="5" height="26" fill="#0e4a2c"/><rect x="581" y="144" width="3" height="24" fill="#6daa87"/><rect x="589" y="133" width="1" height="22" fill="#737375"/><rect x="587" y="143" width="5" height="7" fill="#5a0e08"/><rect x="588" y="144" width="3" height="5" fill="#e05544"/><rect x="596" y="139" width="1" height="29" fill="#737375"/><rect x="594" y="149" width="5" height="12" fill="#5a0e08"/><rect x="595" y="150" width="3" height="10" fill="#e05544"/><rect x="603" y="155" width="1" height="135" fill="#737375"/><rect x="601" y="161" width="5" height="123" fill="#5a0e08"/><rect x="602" y="162" width="3" height="121" fill="#e05544"/><rect x="610" y="250" width="1" height="42" fill="#737375"/><rect x="608" y="258" width="5" height="18" fill="#0e4a2c"/><rect x="609" y="259" width="3" height="16" fill="#6daa87"/><rect x="617" y="245" width="1" height="42" fill="#737375"/><rect x="615" y="259" width="5" height="4" fill="#0e4a2c"/><rect x="616" y="260" width="3" height="2" fill="#6daa87"/><rect x="624" y="246" width="1" height="56" fill="#737375"/><rect x="622" y="261" width="5" height="41" fill="#5a0e08"/><rect x="623" y="262" width="3" height="39" fill="#e05544"/><rect x="631" y="294" width="1" height="42" fill="#737375"/><rect x="629" y="294" width="5" height="35" fill="#5a0e08"/><rect x="630" y="295" width="3" height="33" fill="#e05544"/><rect x="638" y="310" width="1" height="41" fill="#737375"/><rect x="636" y="319" width="5" height="15" fill="#0e4a2c"/><rect x="637" y="320" width="3" height="13" fill="#6daa87"/><rect x="645" y="272" width="1" height="55" fill="#737375"/><rect x="643" y="299" width="5" height="26" fill="#0e4a2c"/><rect x="644" y="300" width="3" height="24" fill="#6daa87"/><rect x="652" y="297" width="1" height="26" fill="#737375"/><rect x="650" y="301" width="5" height="7" fill="#5a0e08"/><rect x="651" y="302" width="3" height="5" fill="#e05544"/><rect x="659" y="300" width="1" height="36" fill="#737375"/><rect x="657" y="309" width="5" height="27" fill="#5a0e08"/><rect x="658" y="310" width="3" height="25" fill="#e05544"/><rect x="666" y="324" width="1" height="27" fill="#737375"/><rect x="664" y="327" width="5" height="23" fill="#5a0e08"/><rect x="665" y="328" width="3" height="21" fill="#e05544"/><rect x="673" y="341" width="1" height="53" fill="#737375"/><rect x="671" y="355" width="5" height="31" fill="#5a0e08"/><rect x="672" y="356" width="3" height="29" fill="#e05544"/><rect x="680" y="363" width="1" height="42" fill="#737375"/><rect x="678" y="375" width="5" height="24" fill="#0e4a2c"/><rect x="679" y="376" width="3" height="22" fill="#6daa87"/><rect x="687" y="319" width="1" height="66" fill="#737375"/><rect x="685" y="325" width="5" height="60" fill="#0e4a2c"/><rect x="686" y="326" width="3" height="58" fill="#6daa87"/><rect x="694" y="308" width="1" height="47" fill="#737375"/><rect x="692" y="338" width="5" height="11" fill="#5a0e08"/><rect x="693" y="339" width="3" height="9" fill="#e05544"/><rect x="701" y="299" width="1" height="50" fill="#737375"/><rect x="699" y="315" width="5" height="30" fill="#0e4a2c"/><rect x="700" y="316" width="3" height="28" fill="#6daa87"/><rect x="708" y="281" width="1" height="40" fill="#737375"/><rect x="706" y="293" width="5" height="28" fill="#0e4a2c"/><rect x="707" y="294" width="3" height="26" fill="#6daa87"/><rect x="715" y="270" width="1" height="28" fill="#737375"/><rect x="713" y="274" width="5" height="19" fill="#0e4a2c"/><rect x="714" y="275" width="3" height="17" fill="#6daa87"/><rect x="722" y="272" width="1" height="72" fill="#737375"/><rect x="720" y="276" width="5" height="39" fill="#5a0e08"/><rect x="721" y="277" width="3" height="37" fill="#e05544"/><rect x="729" y="265" width="1" height="65" fill="#737375"/><rect x="727" y="287" width="5" height="37" fill="#0e4a2c"/><rect x="728" y="288" width="3" height="35" fill="#6daa87"/><rect x="736" y="268" width="1" height="23" fill="#737375"/><rect x="734" y="282" width="5" height="9" fill="#0e4a2c"/><rect x="735" y="283" width="3" height="7" fill="#6daa87"/><rect x="743" y="280" width="1" height="48" fill="#737375"/><rect x="741" y="286" width="5" height="17" fill="#5a0e08"/><rect x="742" y="287" width="3" height="15" fill="#e05544"/><rect x="750" y="285" width="1" height="97" fill="#737375"/><rect x="748" y="302" width="5" height="66" fill="#5a0e08"/><rect x="749" y="303" width="3" height="64" fill="#e05544"/><rect x="757" y="378" width="1" height="79" fill="#737375"/><rect x="755" y="384" width="5" height="60" fill="#5a0e08"/><rect x="756" y="385" width="3" height="58" fill="#e05544"/><rect x="764" y="391" width="1" height="61" fill="#737375"/><rect x="762" y="395" width="5" height="42" fill="#0e4a2c"/><rect x="763" y="396" width="3" height="40" fill="#6daa87"/><rect x="771" y="393" width="1" height="18" fill="#737375"/><rect x="769" y="398" width="5" height="5" fill="#5a0e08"/><rect x="770" y="399" width="3" height="3" fill="#e05544"/><rect x="778" y="393" width="1" height="44" fill="#737375"/><rect x="776" y="404" width="5" height="29" fill="#5a0e08"/><rect x="777" y="405" width="3" height="27" fill="#e05544"/><rect x="785" y="400" width="1" height="30" fill="#737375"/><rect x="783" y="408" width="5" height="21" fill="#0e4a2c"/><rect x="784" y="409" width="3" height="19" fill="#6daa87"/><rect x="792" y="406" width="1" height="54" fill="#737375"/><rect x="790" y="414" width="5" height="46" fill="#5a0e08"/><rect x="791" y="415" width="3" height="44" fill="#e05544"/><rect x="799" y="448" width="1" height="36" fill="#737375"/><rect x="797" y="456" width="5" height="6" fill="#5a0e08"/><rect x="798" y="457" width="3" height="4" fill="#e05544"/><rect x="806" y="459" width="1" height="24" fill="#737375"/><rect x="804" y="468" width="5" height="15" fill="#5a0e08"/><rect x="805" y="469" width="3" height="13" fill="#e05544"/><rect x="813" y="474" width="1" height="55" fill="#737375"/><rect x="811" y="476" width="5" height="46" fill="#5a0e08"/><rect x="812" y="477" width="3" height="44" fill="#e05544"/><rect x="820" y="492" width="1" height="51" fill="#737375"/><rect x="818" y="497" width="5" height="29" fill="#0e4a2c"/><rect x="819" y="498" width="3" height="27" fill="#6daa87"/><rect x="827" y="483" width="1" height="27" fill="#737375"/><rect x="825" y="486" width="5" height="17" fill="#0e4a2c"/><rect x="826" y="487" width="3" height="15" fill="#6daa87"/><rect x="834" y="421" width="1" height="70" fill="#737375"/><rect x="832" y="423" width="5" height="66" fill="#0e4a2c"/><rect x="833" y="424" width="3" height="64" fill="#6daa87"/><rect x="841" y="385" width="1" height="50" fill="#737375"/><rect x="839" y="405" width="5" height="25" fill="#0e4a2c"/><rect x="840" y="406" width="3" height="23" fill="#6daa87"/><rect x="848" y="399" width="1" height="29" fill="#737375"/><rect x="846" y="405" width="5" height="3" fill="#5a0e08"/><rect x="847" y="406" width="3" height="1" fill="#e05544"/><rect x="855" y="355" width="1" height="92" fill="#737375"/><rect x="853" y="406" width="5" height="4" fill="#0e4a2c"/><rect x="854" y="407" width="3" height="2" fill="#6daa87"/><rect x="862" y="393" width="1" height="42" fill="#737375"/><rect x="860" y="411" width="5" height="7" fill="#5a0e08"/><rect x="861" y="412" width="3" height="5" fill="#e05544"/><rect x="869" y="389" width="1" height="43" fill="#737375"/><rect x="867" y="401" width="5" height="22" fill="#0e4a2c"/><rect x="868" y="402" width="3" height="20" fill="#6daa87"/><rect x="876" y="392" width="1" height="22" fill="#737375"/><rect x="874" y="401" width="5" height="13" fill="#5a0e08"/><rect x="875" y="402" width="3" height="11" fill="#e05544"/><rect x="883" y="380" width="1" height="47" fill="#737375"/><rect x="881" y="415" width="5" height="4" fill="#0e4a2c"/><rect x="882" y="416" width="3" height="2" fill="#6daa87"/><rect x="890" y="395" width="1" height="39" fill="#737375"/><rect x="888" y="406" width="5" height="13" fill="#0e4a2c"/><rect x="889" y="407" width="3" height="11" fill="#6daa87"/><rect x="897" y="390" width="1" height="27" fill="#737375"/><rect x="895" y="396" width="5" height="11" fill="#0e4a2c"/><rect x="896" y="397" width="3" height="9" fill="#6daa87"/><rect x="904" y="332" width="1" height="51" fill="#737375"/><rect x="902" y="338" width="5" height="40" fill="#0e4a2c"/><rect x="903" y="339" width="3" height="38" fill="#6daa87"/><rect x="911" y="311" width="1" height="33" fill="#737375"/><rect x="909" y="335" width="5" height="5" fill="#0e4a2c"/><rect x="910" y="336" width="3" height="3" fill="#6daa87"/><rect x="918" y="315" width="1" height="37" fill="#737375"/><rect x="916" y="331" width="5" height="12" fill="#0e4a2c"/><rect x="917" y="332" width="3" height="10" fill="#6daa87"/><rect x="925" y="321" width="1" height="24" fill="#737375"/><rect x="923" y="335" width="5" height="10" fill="#5a0e08"/><rect x="924" y="336" width="3" height="8" fill="#e05544"/><rect x="932" y="335" width="1" height="19" fill="#737375"/><rect x="930" y="336" width="5" height="13" fill="#0e4a2c"/><rect x="931" y="337" width="3" height="11" fill="#6daa87"/><rect x="939" y="301" width="1" height="62" fill="#737375"/><rect x="937" y="321" width="5" height="17" fill="#0e4a2c"/><rect x="938" y="322" width="3" height="15" fill="#6daa87"/><rect x="946" y="321" width="1" height="60" fill="#737375"/><rect x="944" y="324" width="5" height="21" fill="#5a0e08"/><rect x="945" y="325" width="3" height="19" fill="#e05544"/><rect x="953" y="311" width="1" height="43" fill="#737375"/><rect x="951" y="325" width="5" height="11" fill="#0e4a2c"/><rect x="952" y="326" width="3" height="9" fill="#6daa87"/><rect x="960" y="307" width="1" height="46" fill="#737375"/><rect x="958" y="323" width="5" height="5" fill="#5a0e08"/><rect x="959" y="324" width="3" height="3" fill="#e05544"/><rect x="967" y="301" width="1" height="32" fill="#737375"/><rect x="965" y="323" width="5" height="5" fill="#5a0e08"/><rect x="966" y="324" width="3" height="3" fill="#e05544"/><rect x="974" y="316" width="1" height="24" fill="#737375"/><rect x="972" y="333" width="5" height="1" fill="#0e4a2c"/><rect x="981" y="307" width="1" height="61" fill="#737375"/><rect x="979" y="323" width="5" height="9" fill="#0e4a2c"/><rect x="980" y="324" width="3" height="7" fill="#6daa87"/><rect x="988" y="300" width="1" height="62" fill="#737375"/><rect x="986" y="321" width="5" height="38" fill="#5a0e08"/><rect x="987" y="322" width="3" height="36" fill="#e05544"/><rect x="995" y="282" width="1" height="88" fill="#737375"/><rect x="993" y="288" width="5" height="72" fill="#0e4a2c"/><rect x="994" y="289" width="3" height="70" fill="#6daa87"/><rect x="1002" y="240" width="1" height="47" fill="#737375"/><rect x="1000" y="251" width="5" height="26" fill="#0e4a2c"/><rect x="1001" y="252" width="3" height="24" fill="#6daa87"/><rect x="1009" y="241" width="1" height="35" fill="#737375"/><rect x="1007" y="253" width="5" height="21" fill="#5a0e08"/><rect x="1008" y="254" width="3" height="19" fill="#e05544"/><rect x="1016" y="274" width="1" height="17" fill="#737375"/><rect x="1014" y="276" width="5" height="7" fill="#5a0e08"/><rect x="1015" y="277" width="3" height="5" fill="#e05544"/><rect x="1023" y="253" width="1" height="36" fill="#737375"/><rect x="1021" y="275" width="5" height="11" fill="#0e4a2c"/><rect x="1022" y="276" width="3" height="9" fill="#6daa87"/><rect x="1030" y="266" width="1" height="24" fill="#737375"/><rect x="1028" y="272" width="5" height="9" fill="#5a0e08"/><rect x="1029" y="273" width="3" height="7" fill="#e05544"/><rect x="1037" y="266" width="1" height="29" fill="#737375"/><rect x="1035" y="277" width="5" height="12" fill="#0e4a2c"/><rect x="1036" y="278" width="3" height="10" fill="#6daa87"/><rect x="1044" y="213" width="1" height="99" fill="#737375"/><rect x="1042" y="219" width="5" height="59" fill="#0e4a2c"/><rect x="1043" y="220" width="3" height="57" fill="#6daa87"/><rect x="1051" y="212" width="1" height="25" fill="#737375"/><rect x="1049" y="220" width="5" height="12" fill="#5a0e08"/><rect x="1050" y="221" width="3" height="10" fill="#e05544"/><rect x="1057" y="231" width="1" height="41" fill="#737375"/><rect x="1055" y="237" width="5" height="28" fill="#5a0e08"/><rect x="1056" y="238" width="3" height="26" fill="#e05544"/><rect x="1064" y="234" width="1" height="39" fill="#737375"/><rect x="1062" y="259" width="5" height="5" fill="#5a0e08"/><rect x="1063" y="260" width="3" height="3" fill="#e05544"/><rect x="1071" y="258" width="1" height="19" fill="#737375"/><rect x="1069" y="268" width="5" height="8" fill="#0e4a2c"/><rect x="1070" y="269" width="3" height="6" fill="#6daa87"/><rect x="1078" y="255" width="1" height="48" fill="#737375"/><rect x="1076" y="261" width="5" height="24" fill="#5a0e08"/><rect x="1077" y="262" width="3" height="22" fill="#e05544"/><rect x="1085" y="270" width="1" height="22" fill="#737375"/><rect x="1083" y="283" width="5" height="5" fill="#5a0e08"/><rect x="1084" y="284" width="3" height="3" fill="#e05544"/><rect x="1092" y="276" width="1" height="65" fill="#737375"/><rect x="1090" y="290" width="5" height="5" fill="#0e4a2c"/><rect x="1091" y="291" width="3" height="3" fill="#6daa87"/><rect x="1099" y="282" width="1" height="22" fill="#737375"/><rect x="1097" y="290" width="5" height="1" fill="#0e4a2c"/><rect x="1106" y="285" width="1" height="23" fill="#737375"/><rect x="1104" y="287" width="5" height="18" fill="#5a0e08"/><rect x="1105" y="288" width="3" height="16" fill="#e05544"/><rect x="1113" y="293" width="1" height="24" fill="#737375"/><rect x="1111" y="301" width="5" height="3" fill="#0e4a2c"/><rect x="1112" y="302" width="3" height="1" fill="#6daa87"/><rect x="1120" y="269" width="1" height="34" fill="#737375"/><rect x="1118" y="292" width="5" height="11" fill="#0e4a2c"/><rect x="1119" y="293" width="3" height="9" fill="#6daa87"/><rect x="1127" y="272" width="1" height="41" fill="#737375"/><rect x="1125" y="279" width="5" height="13" fill="#0e4a2c"/><rect x="1126" y="280" width="3" height="11" fill="#6daa87"/><rect x="1134" y="264" width="1" height="36" fill="#737375"/><rect x="1132" y="278" width="5" height="18" fill="#5a0e08"/><rect x="1133" y="279" width="3" height="16" fill="#e05544"/><rect x="1141" y="290" width="1" height="18" fill="#737375"/><rect x="1139" y="300" width="5" height="3" fill="#0e4a2c"/><rect x="1140" y="301" width="3" height="1" fill="#6daa87"/><rect x="1148" y="292" width="1" height="28" fill="#737375"/><rect x="1146" y="300" width="5" height="6" fill="#5a0e08"/><rect x="1147" y="301" width="3" height="4" fill="#e05544"/><rect x="1155" y="296" width="1" height="53" fill="#737375"/><rect x="1153" y="300" width="5" height="38" fill="#5a0e08"/><rect x="1154" y="301" width="3" height="36" fill="#e05544"/><rect x="1162" y="336" width="1" height="42" fill="#737375"/><rect x="1160" y="342" width="5" height="36" fill="#5a0e08"/><rect x="1161" y="343" width="3" height="34" fill="#e05544"/><rect x="1169" y="371" width="1" height="44" fill="#737375"/><rect x="1167" y="381" width="5" height="2" fill="#0e4a2c"/><rect x="1176" y="368" width="1" height="24" fill="#737375"/><rect x="1174" y="375" width="5" height="14" fill="#0e4a2c"/><rect x="1175" y="376" width="3" height="12" fill="#6daa87"/><rect x="1183" y="350" width="1" height="35" fill="#737375"/><rect x="1181" y="369" width="5" height="11" fill="#0e4a2c"/><rect x="1182" y="370" width="3" height="9" fill="#6daa87"/><rect x="1190" y="362" width="1" height="27" fill="#737375"/><rect x="1188" y="369" width="5" height="11" fill="#5a0e08"/><rect x="1189" y="370" width="3" height="9" fill="#e05544"/><rect x="1197" y="333" width="1" height="51" fill="#737375"/><rect x="1195" y="336" width="5" height="47" fill="#0e4a2c"/><rect x="1196" y="337" width="3" height="45" fill="#6daa87"/><rect x="1204" y="327" width="1" height="14" fill="#737375"/><rect x="1202" y="331" width="5" height="5" fill="#0e4a2c"/><rect x="1203" y="332" width="3" height="3" fill="#6daa87"/><rect x="1211" y="315" width="1" height="25" fill="#737375"/><rect x="1209" y="320" width="5" height="11" fill="#0e4a2c"/><rect x="1210" y="321" width="3" height="9" fill="#6daa87"/><rect x="1218" y="284" width="1" height="37" fill="#737375"/><rect x="1216" y="302" width="5" height="19" fill="#0e4a2c"/><rect x="1217" y="303" width="3" height="17" fill="#6daa87"/><rect x="1225" y="276" width="1" height="59" fill="#737375"/><rect x="1223" y="299" width="5" height="36" fill="#5a0e08"/><rect x="1224" y="300" width="3" height="34" fill="#e05544"/><rect x="1232" y="282" width="1" height="69" fill="#737375"/><rect x="1230" y="285" width="5" height="61" fill="#0e4a2c"/><rect x="1231" y="286" width="3" height="59" fill="#6daa87"/><rect x="1239" y="247" width="1" height="46" fill="#737375"/><rect x="1237" y="253" width="5" height="36" fill="#0e4a2c"/><rect x="1238" y="254" width="3" height="34" fill="#6daa87"/><rect x="1246" y="249" width="1" height="26" fill="#737375"/><rect x="1244" y="253" width="5" height="18" fill="#5a0e08"/><rect x="1245" y="254" width="3" height="16" fill="#e05544"/><rect x="1253" y="261" width="1" height="25" fill="#737375"/><rect x="1251" y="263" width="5" height="8" fill="#0e4a2c"/><rect x="1252" y="264" width="3" height="6" fill="#6daa87"/><rect x="1260" y="251" width="1" height="19" fill="#737375"/><rect x="1258" y="263" width="5" height="1" fill="#5a0e08"/><rect x="1267" y="230" width="1" height="32" fill="#737375"/><rect x="1265" y="243" width="5" height="11" fill="#0e4a2c"/><rect x="1266" y="244" width="3" height="9" fill="#6daa87"/><rect x="1274" y="204" width="1" height="51" fill="#737375"/><rect x="1272" y="212" width="5" height="39" fill="#0e4a2c"/><rect x="1273" y="213" width="3" height="37" fill="#6daa87"/><rect x="1281" y="202" width="1" height="32" fill="#737375"/><rect x="1279" y="209" width="5" height="18" fill="#5a0e08"/><rect x="1280" y="210" width="3" height="16" fill="#e05544"/><rect x="1288" y="221" width="1" height="47" fill="#737375"/><rect x="1286" y="226" width="5" height="42" fill="#5a0e08"/><rect x="1287" y="227" width="3" height="40" fill="#e05544"/><rect x="1295" y="264" width="1" height="27" fill="#737375"/><rect x="1293" y="267" width="5" height="1" fill="#0e4a2c"/><rect x="1302" y="231" width="1" height="42" fill="#737375"/><rect x="1300" y="262" width="5" height="5" fill="#0e4a2c"/><rect x="1301" y="263" width="3" height="3" fill="#6daa87"/><rect x="1309" y="251" width="1" height="27" fill="#737375"/><rect x="1307" y="256" width="5" height="20" fill="#5a0e08"/><rect x="1308" y="257" width="3" height="18" fill="#e05544"/><rect x="1316" y="270" width="1" height="25" fill="#737375"/><rect x="1314" y="276" width="5" height="1" fill="#0e4a2c"/><rect x="1323" y="186" width="1" height="98" fill="#737375"/><rect x="1321" y="193" width="5" height="84" fill="#0e4a2c"/><rect x="1322" y="194" width="3" height="82" fill="#6daa87"/><rect x="1330" y="169" width="1" height="37" fill="#737375"/><rect x="1328" y="187" width="5" height="6" fill="#0e4a2c"/><rect x="1329" y="188" width="3" height="4" fill="#6daa87"/><rect x="1337" y="124" width="1" height="67" fill="#737375"/><rect x="1335" y="131" width="5" height="58" fill="#0e4a2c"/><rect x="1336" y="132" width="3" height="56" fill="#6daa87"/><rect x="1344" y="114" width="1" height="31" fill="#737375"/><rect x="1342" y="117" width="5" height="21" fill="#0e4a2c"/><rect x="1343" y="118" width="3" height="19" fill="#6daa87"/><rect x="1351" y="93" width="1" height="35" fill="#737375"/><rect x="1349" y="104" width="5" height="15" fill="#0e4a2c"/><rect x="1350" y="105" width="3" height="13" fill="#6daa87"/><rect x="1358" y="99" width="1" height="43" fill="#737375"/><rect x="1356" y="107" width="5" height="30" fill="#5a0e08"/><rect x="1357" y="108" width="3" height="28" fill="#e05544"/><rect x="1365" y="117" width="1" height="34" fill="#737375"/><rect x="1363" y="119" width="5" height="17" fill="#0e4a2c"/><rect x="1364" y="120" width="3" height="15" fill="#6daa87"/><rect x="1372" y="104" width="1" height="40" fill="#737375"/><rect x="1370" y="118" width="5" height="6" fill="#5a0e08"/><rect x="1371" y="119" width="3" height="4" fill="#e05544"/><rect x="1379" y="102" width="1" height="31" fill="#737375"/><rect x="1377" y="123" width="5" height="4" fill="#0e4a2c"/><rect x="1378" y="124" width="3" height="2" fill="#6daa87"/><rect x="1386" y="114" width="1" height="48" fill="#737375"/><rect x="1384" y="123" width="5" height="34" fill="#5a0e08"/><rect x="1385" y="124" width="3" height="32" fill="#e05544"/><rect x="1393" y="136" width="1" height="28" fill="#737375"/><rect x="1391" y="146" width="5" height="11" fill="#0e4a2c"/><rect x="1392" y="147" width="3" height="9" fill="#6daa87"/><rect x="1400" y="134" width="1" height="38" fill="#737375"/><rect x="1398" y="137" width="5" height="9" fill="#0e4a2c"/><rect x="1399" y="138" width="3" height="7" fill="#6daa87"/></g>
<polyline points="1.8,681.6 10.6,682.6 50.4,682.6 58.3,675.6 67.1,675.9 76.0,678.2 84.8,677.1 93.7,677.7 100.7,676.3 113.1,678.6 121.9,680.9 127.2,678.2 134.3,679.4 141.4,678.9 150.2,680.3 162.6,681.6 176.7,685.6 187.3,684.4 197.9,682.1 205.0,680.9 212.0,684.7 219.1,680.9 231.5,678.2 240.0,674.1 247.4,678.2 254.5,676.4 260.0,678.2 268.0,681.6 275.0,683.5 282.1,682.6 296.2,685.3 302.9,682.1 316.5,687.0 323.6,688.8 330.7,686.9 344.8,689.2 351.9,688.6 359.0,690.6 366.0,689.2 373.1,687.7 380.2,687.0 387.2,683.0 394.3,683.5 401.4,682.4 408.4,682.6 415.5,678.2 429.6,679.4 435.8,681.6 442.9,676.8 457.0,679.4 464.1,680.9 471.2,680.9 478.2,679.4 485.3,682.4 491.5,680.3 498.9,676.4 506.5,679.1 513.6,681.2 519.8,682.4 527.1,682.1 534.1,678.2 541.2,679.4 548.3,677.1 555.0,670.6 561.5,672.7 568.6,674.7 575.7,677.1 581.8,678.2 588.9,681.6 596.0,684.2 603.1,672.0 610.1,673.3 617.2,674.5 624.3,673.8 631.3,675.0 638.4,676.4 644.6,675.6 651.6,678.6 658.7,680.3 665.8,683.0 672.9,682.1 679.9,682.6 687.0,680.3 694.1,680.3 701.1,679.8 708.2,680.9 714.9,683.3 722.0,679.4 729.0,677.3 736.1,680.9 743.2,680.7 749.7,674.1 756.8,668.8 763.9,668.0 770.9,672.4 777.1,673.6 785.1,676.3 792.4,675.6 798.6,677.7 805.6,680.7 812.7,679.4 820.3,679.1 826.8,682.1 833.9,678.6 841.0,678.2 848.0,681.6 855.1,675.4 862.2,676.4 868.9,677.7 876.0,680.7 883.0,680.9 890.1,682.1 896.6,684.7 903.7,682.1 910.8,683.9 917.8,685.1 924.9,687.9 932.0,691.3 939.0,688.3 946.1,686.2 953.2,686.2 960.2,686.0 966.4,687.4 974.0,690.4 981.1,687.7 988.2,685.3 994.7,679.4 1001.8,679.4 1008.8,681.2 1015.9,685.1 1023.0,686.5 1030.0,689.2 1036.8,690.9 1043.8,683.0 1051.0,686.2 1057.7,686.5 1064.7,687.4 1071.8,690.4 1078.9,689.7 1085.9,692.7 1093.0,689.2 1100.1,691.8 1107.2,694.1 1113.3,696.2 1120.4,697.5 1127.5,696.8 1133.7,697.5 1140.7,700.1 1147.8,701.5 1154.9,699.2 1161.9,698.3 1169.0,697.5 1176.1,699.2 1183.1,699.8 1190.2,701.5 1196.9,699.4 1204.0,702.4 1211.1,704.2 1218.1,703.6 1225.2,700.6 1232.3,696.2 1239.3,695.3 1246.4,697.1 1252.9,699.2 1260.0,701.5 1267.1,701.9 1274.0,699.8 1281.3,700.4 1287.9,699.1 1295.2,700.4 1301.8,699.5 1309.1,701.1 1316.0,702.7 1323.0,694.5 1330.3,694.7 1336.9,691.1 1344.2,692.5 1350.8,693.1 1357.5,692.7 1364.8,693.8 1372.0,694.2 1379.3,695.4 1386.0,694.2 1393.3,695.5 1399.9,696.1" fill="none" stroke="#b22833" stroke-width="1.2" stroke-linejoin="round" stroke-linecap="round" />
<polyline points="1.8,783.7 11.5,775.7 16.8,769.9 31.8,759.0 44.2,754.5 51.2,756.3 64.5,747.8 71.6,746.1 84.8,734.2 92.8,731.2 99.8,736.9 106.0,737.2 114.0,733.3 128.1,737.8 143.1,729.4 149.3,731.2 155.5,728.6 169.6,729.4 178.5,733.3 191.7,732.8 197.0,730.7 205.0,726.3 212.9,730.7 226.2,748.4 233.3,744.8 240.0,733.3 246.5,730.7 254.5,720.6 268.0,720.6 275.0,726.3 281.7,736.0 289.2,737.2 296.2,736.3 302.9,730.3 310.4,730.3 316.5,734.2 323.6,737.8 330.7,736.9 337.8,731.6 344.8,731.2 351.9,727.7 359.0,724.9 366.0,716.9 373.1,725.7 380.2,734.7 387.2,724.5 393.9,722.2 401.4,730.3 408.4,737.8 415.5,741.6 421.7,744.5 428.8,751.9 435.8,756.0 442.9,746.2 450.0,738.6 457.0,746.1 464.1,749.6 471.2,745.7 478.2,751.5 485.3,756.3 492.0,775.7 498.9,767.3 506.0,746.1 513.0,735.1 520.1,742.5 527.1,754.2 534.1,742.2 540.9,725.0 548.3,759.0 555.0,790.2 561.9,790.8 568.9,774.0 576.0,770.4 581.8,763.7 588.9,759.3 596.0,762.1 603.1,788.1 610.1,788.1 617.2,781.6 624.3,780.5 631.3,781.9 638.4,777.5 645.1,770.4 651.6,769.6 658.7,769.6 665.8,770.1 672.9,773.1 679.9,772.6 687.0,765.7 694.1,763.4 701.1,759.8 708.2,754.9 714.9,750.1 722.0,755.4 729.0,748.4 736.1,739.5 743.2,747.5 749.7,765.1 756.8,794.3 763.9,782.8 770.9,774.3 777.6,776.1 784.9,771.0 792.0,775.2 799.1,776.3 806.2,774.9 813.2,777.2 819.8,774.3 826.8,769.2 833.9,760.4 841.0,753.7 848.0,753.3 855.1,750.5 862.2,751.9 868.9,748.4 876.0,745.7 883.0,743.4 890.1,743.1 896.6,739.5 903.7,724.0 910.8,720.4 917.8,725.0 924.9,728.6 932.0,731.9 939.0,730.7 946.1,737.8 953.2,735.5 960.2,736.5 966.4,736.0 974.0,739.9 981.1,741.6 988.2,744.5 995.2,736.0 1002.1,717.4 1009.2,720.1 1015.9,728.4 1023.0,726.6 1030.0,732.5 1036.8,735.1 1043.8,726.6 1051.0,724.0 1057.7,736.0 1064.7,738.6 1071.8,743.1 1078.9,747.8 1085.9,749.8 1093.0,759.0 1100.1,755.4 1107.2,759.8 1113.9,763.7 1120.4,756.7 1127.5,759.5 1133.7,759.5 1140.7,767.8 1147.8,771.3 1154.9,782.8 1161.9,796.1 1169.0,796.4 1176.1,783.7 1183.1,775.7 1190.2,774.3 1196.9,763.7 1204.0,756.7 1211.1,752.8 1218.1,743.6 1225.2,747.8 1232.3,743.9 1239.3,728.6 1246.4,730.7 1252.9,734.2 1260.0,732.1 1267.1,728.6 1274.0,725.2 1280.6,727.6 1287.9,738.2 1294.9,743.9 1302.5,740.5 1309.1,744.8 1316.0,748.8 1323.0,732.2 1330.3,721.0 1336.9,712.6 1343.6,713.7 1350.8,717.3 1357.5,726.3 1364.8,730.2 1372.0,732.2 1379.3,734.9 1386.0,740.5 1393.3,742.4 1399.9,743.5" fill="none" stroke="#2962ff" stroke-width="1.2" stroke-linejoin="round" stroke-linecap="round" />
<rect x="1464" y="1" width="61" height="829" fill="#fff"/>
<rect x="2" y="803" width="1523" height="27" fill="#fff"/>
<rect x="1463" y="0" width="1" height="830" fill="#303030"/>
<rect x="2" y="802" width="1523" height="1" fill="#303030"/>
<rect x="1463" y="665" width="62" height="1" fill="#e0e3eb"/>
<rect x="1463" y="707" width="62" height="1" fill="#e0e3eb"/>
<text x="1472.2" y="65.5" font-size="11.7" fill="#4f4f4f" textLength="42" lengthAdjust="spacingAndGlyphs">107.000</text>
<text x="1472.2" y="103.5" font-size="11.7" fill="#4f4f4f" textLength="42" lengthAdjust="spacingAndGlyphs">106.500</text>
<text x="1472.2" y="141.4" font-size="11.7" fill="#4f4f4f" textLength="42" lengthAdjust="spacingAndGlyphs">106.000</text>
<text x="1472.2" y="179.4" font-size="11.7" fill="#4f4f4f" textLength="42" lengthAdjust="spacingAndGlyphs">105.500</text>
<text x="1472.2" y="217.3" font-size="11.7" fill="#4f4f4f" textLength="42" lengthAdjust="spacingAndGlyphs">105.000</text>
<text x="1472.2" y="255.2" font-size="11.7" fill="#4f4f4f" textLength="42" lengthAdjust="spacingAndGlyphs">104.500</text>
<text x="1472.2" y="293.2" font-size="11.7" fill="#4f4f4f" textLength="42" lengthAdjust="spacingAndGlyphs">104.000</text>
<text x="1472.2" y="331.1" font-size="11.7" fill="#4f4f4f" textLength="42" lengthAdjust="spacingAndGlyphs">103.500</text>
<text x="1472.2" y="369.0" font-size="11.7" fill="#4f4f4f" textLength="42" lengthAdjust="spacingAndGlyphs">103.000</text>
<text x="1472.2" y="407.0" font-size="11.7" fill="#4f4f4f" textLength="42" lengthAdjust="spacingAndGlyphs">102.500</text>
<text x="1472.2" y="444.9" font-size="11.7" fill="#4f4f4f" textLength="42" lengthAdjust="spacingAndGlyphs">102.000</text>
<text x="1472.2" y="482.9" font-size="11.7" fill="#4f4f4f" textLength="42" lengthAdjust="spacingAndGlyphs">101.500</text>
<text x="1472.2" y="520.8" font-size="11.7" fill="#4f4f4f" textLength="42" lengthAdjust="spacingAndGlyphs">101.000</text>
<text x="1472.2" y="558.7" font-size="11.7" fill="#4f4f4f" textLength="42" lengthAdjust="spacingAndGlyphs">100.500</text>
<text x="1472.2" y="596.7" font-size="11.7" fill="#4f4f4f" textLength="42" lengthAdjust="spacingAndGlyphs">100.000</text>
<text x="1470.7" y="703" font-size="11.7" fill="#4f4f4f" textLength="30.2" lengthAdjust="spacingAndGlyphs">0.500</text>
<text x="1470.9" y="721.1" font-size="11.7" fill="#4f4f4f" textLength="36" lengthAdjust="spacingAndGlyphs">200.00</text>
<path d="M1463 26h55q2 0 2 2v13q0 2 -2 2h-55z" fill="#000"/>
<text x="1472.3" y="38.8" font-size="12" font-weight="bold" fill="#fff" textLength="41.7" lengthAdjust="spacingAndGlyphs">107.355</text>
<path d="M1463 203h55q2 0 2 2v13q0 2 -2 2h-55z" fill="#000"/>
<text x="1472.3" y="215.8" font-size="12" font-weight="bold" fill="#fff" textLength="41.7" lengthAdjust="spacingAndGlyphs">105.020</text>
<path d="M1463 407h55q2 0 2 2v13q0 2 -2 2h-55z" fill="#000"/>
<text x="1472.3" y="419.8" font-size="12" font-weight="bold" fill="#fff" textLength="41.7" lengthAdjust="spacingAndGlyphs">102.344</text>
<path d="M1463 535h55q2 0 2 2v13q0 2 -2 2h-55z" fill="#000"/>
<text x="1472.3" y="547.8" font-size="12" font-weight="bold" fill="#fff" textLength="41.7" lengthAdjust="spacingAndGlyphs">100.645</text>
<path d="M1463 624h48q2 0 2 2v13q0 2 -2 2h-48z" fill="#000"/>
<text x="1472.3" y="636.8" font-size="12" font-weight="bold" fill="#fff" textLength="35.2" lengthAdjust="spacingAndGlyphs">99.480</text>
<text x="68.5" y="820.1" font-size="12" fill="#4f4f4f" textLength="20.4" lengthAdjust="spacingAndGlyphs">Aug</text>
<text x="230.1" y="820.1" font-size="12" fill="#4f4f4f" textLength="19.2" lengthAdjust="spacingAndGlyphs">Sep</text>
<text x="377.2" y="820.1" font-size="12" fill="#4f4f4f" textLength="18.9" lengthAdjust="spacingAndGlyphs">Oct</text>
<text x="529.9" y="820.1" font-size="12" fill="#4f4f4f" textLength="21.6" lengthAdjust="spacingAndGlyphs">Nov</text>
<text x="683.3" y="820.1" font-size="12" fill="#4f4f4f" textLength="20.8" lengthAdjust="spacingAndGlyphs">Dec</text>
<text x="819.6" y="820.1" font-size="12" fill="#4f4f4f" font-weight="bold" textLength="28.2" lengthAdjust="spacingAndGlyphs">2024</text>
<text x="978.0" y="820.1" font-size="12" fill="#4f4f4f" textLength="19.5" lengthAdjust="spacingAndGlyphs">Feb</text>
<text x="1123.3" y="820.1" font-size="12" fill="#4f4f4f" textLength="20.8" lengthAdjust="spacingAndGlyphs">Mar</text>
<text x="1264.0" y="820.1" font-size="12" fill="#4f4f4f" textLength="19.4" lengthAdjust="spacingAndGlyphs">Apr</text>
<text x="1416.9" y="820.1" font-size="12" fill="#4f4f4f" textLength="21.6" lengthAdjust="spacingAndGlyphs">May</text>
<rect x="1464" y="1" width="61" height="34" fill="#fff"/>
<rect x="1467.5" y="5.5" width="52.5" height="24.5" rx="4" fill="#fff" stroke="#e0e3eb"/>
<text x="1470.6" y="21.8" font-size="12.3" fill="#131722" textLength="21.6" lengthAdjust="spacingAndGlyphs">USD</text>
<path d="M1511 16.5l2.5 2.5l2.5 -2.5" fill="none" stroke="#131722" stroke-width="1.3"/>
<rect x="10" y="2" width="662" height="21" fill="#fff" fill-opacity="0.55"/>
<rect x="10" y="33" width="171" height="28" fill="#fff" fill-opacity="0.6"/>
<rect x="10" y="61" width="559" height="24" fill="#fff" fill-opacity="0.5"/>
<rect x="10" y="672" width="111" height="23" fill="#fff" fill-opacity="0.6"/>
<rect x="10" y="714" width="146" height="23" fill="#fff" fill-opacity="0.6"/>
<circle cx="19.9" cy="16.9" r="9.1" fill="#07816a"/>
<text x="20" y="22.2" text-anchor="middle" font-size="14.5" font-weight="bold" fill="#fff">S</text>
<rect x="19.4" y="9.6" width="1.2" height="14.8" fill="#fff"/>
<text x="32.6" y="22.6" font-size="16" fill="#4a4a4a" lengthAdjust="spacingAndGlyphs" textLength="109.6">US Dollar Index</text>
<rect x="147.2" y="16.3" width="2.4" height="2.4" fill="#4a4a4a"/>
<text x="153.3" y="22.6" font-size="16" fill="#4a4a4a" lengthAdjust="spacingAndGlyphs" textLength="19">1D</text>
<rect x="178.1" y="16.3" width="2.4" height="2.4" fill="#4a4a4a"/>
<text x="183.4" y="22.6" font-size="16" fill="#4a4a4a" lengthAdjust="spacingAndGlyphs" textLength="100.3">PEPPERSTONE</text>
<circle cx="306.8" cy="16.8" r="8.9" fill="#d5efe9"/><circle cx="306.8" cy="16.8" r="4.2" fill="#089981"/>
<text x="332.4" y="21.6" font-size="12.4" fill="#4a4a4a" textLength="8.6" lengthAdjust="spacingAndGlyphs">O</text>
<text x="343.2" y="21.6" font-size="12.4" fill="#2a6b4c" textLength="44.1" lengthAdjust="spacingAndGlyphs">105.880</text>
<text x="393.9" y="21.6" font-size="12.4" fill="#4a4a4a" textLength="8.0" lengthAdjust="spacingAndGlyphs">H</text>
<text x="403.7" y="21.6" font-size="12.4" fill="#2a6b4c" textLength="44.6" lengthAdjust="spacingAndGlyphs">106.035</text>
<text x="455.6" y="21.6" font-size="12.4" fill="#4a4a4a" textLength="6.0" lengthAdjust="spacingAndGlyphs">L</text>
<text x="463.2" y="21.6" font-size="12.4" fill="#2a6b4c" textLength="45.1" lengthAdjust="spacingAndGlyphs">105.540</text>
<text x="514.8" y="21.6" font-size="12.4" fill="#4a4a4a" textLength="7.6" lengthAdjust="spacingAndGlyphs">C</text>
<text x="523.5" y="21.6" font-size="12.4" fill="#2a6b4c" textLength="44.5" lengthAdjust="spacingAndGlyphs">106.015</text>
<text x="575.8" y="21.6" font-size="12.4" fill="#2a6b4c" textLength="36.7" lengthAdjust="spacingAndGlyphs">+0.136</text>
<text x="618.7" y="21.6" font-size="12.4" fill="#2a6b4c" textLength="47.2" lengthAdjust="spacingAndGlyphs">(+0.13%)</text>
<rect x="10.5" y="33.5" width="61" height="23" rx="4" fill="#fff" stroke="#f23645" stroke-width="1"/>
<text x="19" y="49.4" font-size="12.4" fill="#f23645" textLength="44.4" lengthAdjust="spacingAndGlyphs">106.010</text>
<text x="79.8" y="49.4" font-size="11.2" fill="#131722" textLength="26.9" lengthAdjust="spacingAndGlyphs">0.054</text>
<rect x="115.5" y="33.5" width="61.5" height="23" rx="4" fill="#fff" stroke="#2962ff" stroke-width="1"/>
<text x="123.5" y="49.4" font-size="12.4" fill="#2962ff" textLength="45.1" lengthAdjust="spacingAndGlyphs">106.064</text>
<text x="11" y="77" font-size="12.2" fill="#4a4a4a" textLength="383.2" lengthAdjust="spacingAndGlyphs">MA Ribbon SMA close 20 SMA close 50 SMA close 100 SMA close 200</text>
<text x="403.6" y="77" font-size="12.2" fill="#f23645" textLength="43.9" lengthAdjust="spacingAndGlyphs">105.368</text>
<text x="454.8" y="77" font-size="12.2" fill="#2962ff" textLength="44.3" lengthAdjust="spacingAndGlyphs">104.406</text>
<circle cx="509.9" cy="72.9" r="3.1" fill="none" stroke="#131722" stroke-width="1"/><path d="M507.2 77.2L512.7 68.4" stroke="#131722" stroke-width="1" fill="none"/>
<text x="520.8" y="77" font-size="12.2" fill="#131722" textLength="44.2" lengthAdjust="spacingAndGlyphs">104.076</text>
<rect x="12" y="87.5" width="27.5" height="19.5" rx="3" fill="#fff" fill-opacity="0.9" stroke="#d1d4dc"/>
<path d="M21.6 99.4l3.9 -3.9l3.9 3.9" fill="none" stroke="#131722" stroke-width="1.3"/>
<text x="11" y="686.6" font-size="12.2" fill="#4a4a4a" textLength="66.8" lengthAdjust="spacingAndGlyphs">ATR 14 RMA</text>
<text x="86.6" y="686.6" font-size="12.2" fill="#b22833" textLength="31.4" lengthAdjust="spacingAndGlyphs">0.515</text>
<text x="11" y="728.7" font-size="12.2" fill="#4a4a4a" textLength="101.4" lengthAdjust="spacingAndGlyphs">CCI 20 hlc3 SMA 5</text>
<text x="121" y="728.7" font-size="12.2" fill="#2962ff" textLength="32" lengthAdjust="spacingAndGlyphs">48.20</text>
<g transform="translate(14.1,769.82) scale(0.82)" fill="#131722"><path d="M14 22H7V11H0V4h14v18z"/><circle cx="20" cy="8" r="4"/><path d="M28 22h-8l7.5-18h8L28 22z"/></g>
<defs><filter id="ws" x="-10%" y="-10%" width="125%" height="125%"><feGaussianBlur stdDeviation="0.9"/></filter></defs>
<g fill="none" stroke="#30343a" stroke-opacity="0.38" stroke-width="15" stroke-linejoin="miter" filter="url(#ws)">
<g transform="translate(1291.6,739.7) skewX(-12) scale(0.58)">
<path d="M10,10 L22,20"/>
<path d="M4,36 L16,46"/>
<path d="M2,95 L20,62"/>
<path d="M46,2 L34,24"/>
<path d="M38,20 L98,20"/>
<path d="M44,38 L92,38 L86,96"/>
<path d="M44,38 L36,84 L88,84"/>
<path d="M24,61 L100,61"/>
<path d="M60,44 L66,54"/>
<path d="M57,68 L63,78"/>
</g>
<g transform="translate(1352.6,739.7) skewX(-12) scale(0.58)">
<path d="M14,12 L78,12 L74,47"/>
<path d="M25,12 L18,47 L96,47 L88,93 L68,93"/>
<path d="M2,70 L82,70"/>
</g>
<g transform="translate(1411.6,739.7) skewX(-12) scale(0.58)">
<path d="M8,10 L44,10 L40,66"/>
<path d="M8,10 L4,66"/>
<path d="M24,24 L20,60 L2,94"/>
<path d="M28,66 L46,92"/>
<path d="M50,30 L100,30"/>
<path d="M82,4 L76,94 L62,90"/>
<path d="M78,34 L50,78"/>
</g>
<g transform="translate(1473.6,739.7) skewX(-12) scale(0.58)">
<path d="M30,4 L8,34 L34,34 L6,66 L40,62"/>
<path d="M2,92 L40,84"/>
<path d="M50,10 L96,10 L56,50"/>
<path d="M68,28 L100,52"/>
<path d="M56,62 L98,62"/>
<path d="M76,62 L72,92"/>
<path d="M46,92 L100,92"/>
</g>
</g>
<g fill="none" stroke="#fff" stroke-opacity="0.92" stroke-width="15" stroke-linejoin="miter" >
<g transform="translate(1290,738) skewX(-12) scale(0.58)">
<path d="M10,10 L22,20"/>
<path d="M4,36 L16,46"/>
<path d="M2,95 L20,62"/>
<path d="M46,2 L34,24"/>
<path d="M38,20 L98,20"/>
<path d="M44,38 L92,38 L86,96"/>
<path d="M44,38 L36,84 L88,84"/>
<path d="M24,61 L100,61"/>
<path d="M60,44 L66,54"/>
<path d="M57,68 L63,78"/>
</g>
<g transform="translate(1351,738) skewX(-12) scale(0.58)">
<path d="M14,12 L78,12 L74,47"/>
<path d="M25,12 L18,47 L96,47 L88,93 L68,93"/>
<path d="M2,70 L82,70"/>
</g>
<g transform="translate(1410,738) skewX(-12) scale(0.58)">
<path d="M8,10 L44,10 L40,66"/>
<path d="M8,10 L4,66"/>
<path d="M24,24 L20,60 L2,94"/>
<path d="M28,66 L46,92"/>
<path d="M50,30 L100,30"/>
<path d="M82,4 L76,94 L62,90"/>
<path d="M78,34 L50,78"/>
</g>
<g transform="translate(1472,738) skewX(-12) scale(0.58)">
<path d="M30,4 L8,34 L34,34 L6,66 L40,62"/>
<path d="M2,92 L40,84"/>
<path d="M50,10 L96,10 L56,50"/>
<path d="M68,28 L100,52"/>
<path d="M56,62 L98,62"/>
<path d="M76,62 L72,92"/>
<path d="M46,92 L100,92"/>
</g>
</g>
<g opacity="0.74" fill="#4a86ef" stroke="#4a86ef" stroke-width="1.7" font-size="31.5" font-weight="bold" font-style="italic">
<text transform="translate(1294.8,824) scale(1.0,1)">z</text>
<text transform="translate(1320.8,824) scale(1.0,1)">z</text>
<text transform="translate(1349,824) scale(1.0,1)">r</text>
<text transform="translate(1372,824) scale(1.25,1)">t</text>
<text transform="translate(1392.5,824) scale(1.1,1)">0</text>
<text transform="translate(1428.5,824) scale(0.72,1)">1</text>
<text transform="translate(1451.8,824) scale(1.08,1)">.</text>
<text transform="translate(1470.7,824) scale(0.9,1)">c</text>
<text transform="translate(1502.4,824) scale(0.73,1)">n</text>
</g>
<text x="1471.2" y="756" font-size="11.7" fill="#4f4f4f" textLength="22.7" lengthAdjust="spacingAndGlyphs">0.00</text>
<text x="1469.6" y="791.2" font-size="11.7" fill="#4f4f4f" textLength="42.6" lengthAdjust="spacingAndGlyphs">-200.00</text>
<path d="M1487.6 816l3.4 -5.9h6.8l3.4 5.9l-3.4 5.9h-6.8z" fill="none" stroke="#131722" stroke-width="1.2"/><circle cx="1494.4" cy="816" r="1.9" fill="none" stroke="#131722" stroke-width="1.1"/>
<path fill-rule="evenodd" fill="#dfe2ec" d="M0 0H1528V830H0Z M2 835V5Q2 1 6 1H1521Q1525 1 1525 5V835Z"/>
</svg></body></html>
